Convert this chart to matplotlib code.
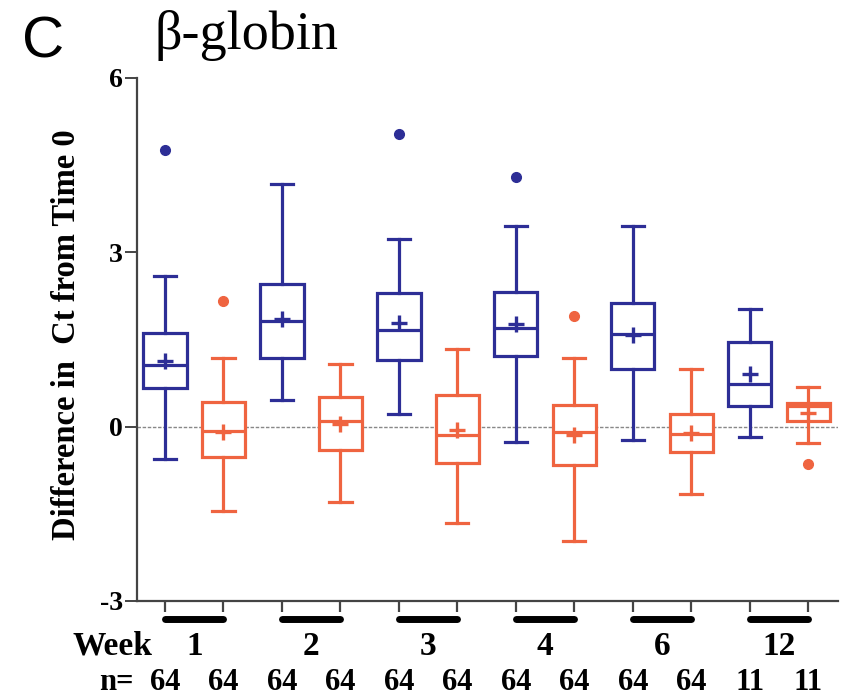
import matplotlib.pyplot as plt

plt.rcParams["axes.unicode_minus"] = False

# week groups and sample sizes
weeks = ["1", "2", "3", "4", "6", "12"]
n_blue = [64, 64, 64, 64, 64, 11]
n_orange = [64, 64, 64, 64, 64, 11]

# box stats: (whislo, q1, med, q3, whishi, mean, fliers)
blue = [
    (-0.55, 0.66, 1.06, 1.61, 2.59, 1.13, [4.76]),
    (0.45, 1.18, 1.82, 2.45, 4.18, 1.86, []),
    (0.21, 1.15, 1.67, 2.30, 3.23, 1.78, [5.04]),
    (-0.27, 1.21, 1.70, 2.31, 3.46, 1.76, [4.30]),
    (-0.23, 0.99, 1.59, 2.13, 3.45, 1.57, []),
    (-0.18, 0.36, 0.73, 1.46, 2.03, 0.91, []),
]
orange = [
    (-1.45, -0.53, -0.07, 0.42, 1.18, -0.09, [2.16]),
    (-1.30, -0.40, 0.09, 0.51, 1.08, 0.04, []),
    (-1.65, -0.62, -0.15, 0.55, 1.33, -0.05, []),
    (-1.96, -0.66, -0.09, 0.37, 1.18, -0.15, [1.91]),
    (-1.16, -0.44, -0.13, 0.21, 0.99, -0.11, []),
    (-0.29, 0.10, 0.36, 0.41, 0.69, 0.23, [-0.64]),
]

BLUE = "#2D2E96"
ORANGE = "#EF6440"
serif = ["Liberation Serif", "DejaVu Serif"]

fig = plt.figure(figsize=(8.46, 6.98), dpi=100)
ax = fig.add_axes([0.1619, 0.139, 0.8286, 0.7493])


def stats(rows):
    out = []
    for lo, q1, med, q3, hi, mean, fl in rows:
        out.append(dict(whislo=lo, q1=q1, med=med, q3=q3, whishi=hi,
                        mean=mean, fliers=fl))
    return out


pos_blue = [2 * i for i in range(len(weeks))]
pos_orange = [2 * i + 1 for i in range(len(weeks))]

for data, pos, col in [(blue, pos_blue, BLUE), (orange, pos_orange, ORANGE)]:
    lw = 2.3
    ax.bxp(stats(data), positions=pos, widths=0.74, capwidths=0.38,
           showmeans=False, patch_artist=True,
           boxprops=dict(facecolor="white", edgecolor=col, linewidth=lw),
           medianprops=dict(color=col, linewidth=lw),
           whiskerprops=dict(color=col, linewidth=lw),
           capprops=dict(color=col, linewidth=lw),
           flierprops=dict(marker="o", markerfacecolor=col, markeredgecolor=col,
                           markersize=7, linestyle="none"),
           zorder=3)
    # means drawn as plus signs
    ax.plot(pos, [r[5] for r in data], linestyle="none", marker="+",
            markersize=11, markeredgewidth=2.4, color=col, zorder=4)

ax.axhline(0, color="#888888", linewidth=1, linestyle=(0, (2.5, 1.2)), zorder=1)

ax.set_xlim(-0.48, 11.51)
ax.set_ylim(-3, 6)
ax.set_yticks([-3, 0, 3, 6])
ax.set_xticks(pos_blue + pos_orange)
ax.set_xticklabels([])
for s in ["top", "right"]:
    ax.spines[s].set_visible(False)
for s in ["left", "bottom"]:
    ax.spines[s].set_color("#444444")
    ax.spines[s].set_linewidth(1.6)
ax.tick_params(axis="y", length=9, width=1.4, color="#444444", pad=1)
ax.tick_params(axis="x", length=8, width=1.6, color="#444444")
for lab in ax.get_yticklabels():
    lab.set_fontfamily(serif)
    lab.set_fontweight("bold")
    lab.set_fontsize(20)

ax.set_ylabel("Difference in  Ct from Time 0", family=serif, fontweight="bold",
              fontsize=23.5)
ax.yaxis.set_label_coords(-0.078, 0.51)

# week bars and labels under the axis
tr = ax.get_xaxis_transform()
for i, w in enumerate(weeks):
    ax.plot([pos_blue[i], pos_orange[i]], [-0.0344, -0.0344], transform=tr,
            color="black", linewidth=5, solid_capstyle="round", clip_on=False)
    ax.text((pos_blue[i] + pos_orange[i]) / 2, -0.087, w, transform=tr,
            ha="center", va="center", family=serif, fontweight="bold", fontsize=24)
    ax.text(pos_blue[i], -0.156, str(n_blue[i]), transform=tr, ha="center",
            va="center", family=serif, fontweight="bold", fontsize=22)
    ax.text(pos_orange[i], -0.156, str(n_orange[i]), transform=tr, ha="center",
            va="center", family=serif, fontweight="bold", fontsize=22)
ax.text(-0.89, -0.087, "Week", transform=tr, ha="center", va="center",
        family=serif, fontweight="bold", fontsize=24)
ax.text(-0.84, -0.156, "n=", transform=tr, ha="center", va="center",
        family=serif, fontweight="bold", fontsize=22)

fig.text(22 / 846, 0.918, "C", family=["Liberation Sans", "DejaVu Sans"],
         fontsize=42, va="baseline", ha="left")
fig.text(155 / 846, 0.930, "β-globin", family=serif, fontsize=39,
         va="baseline", ha="left")

fig.savefig("out.png", dpi=100)
